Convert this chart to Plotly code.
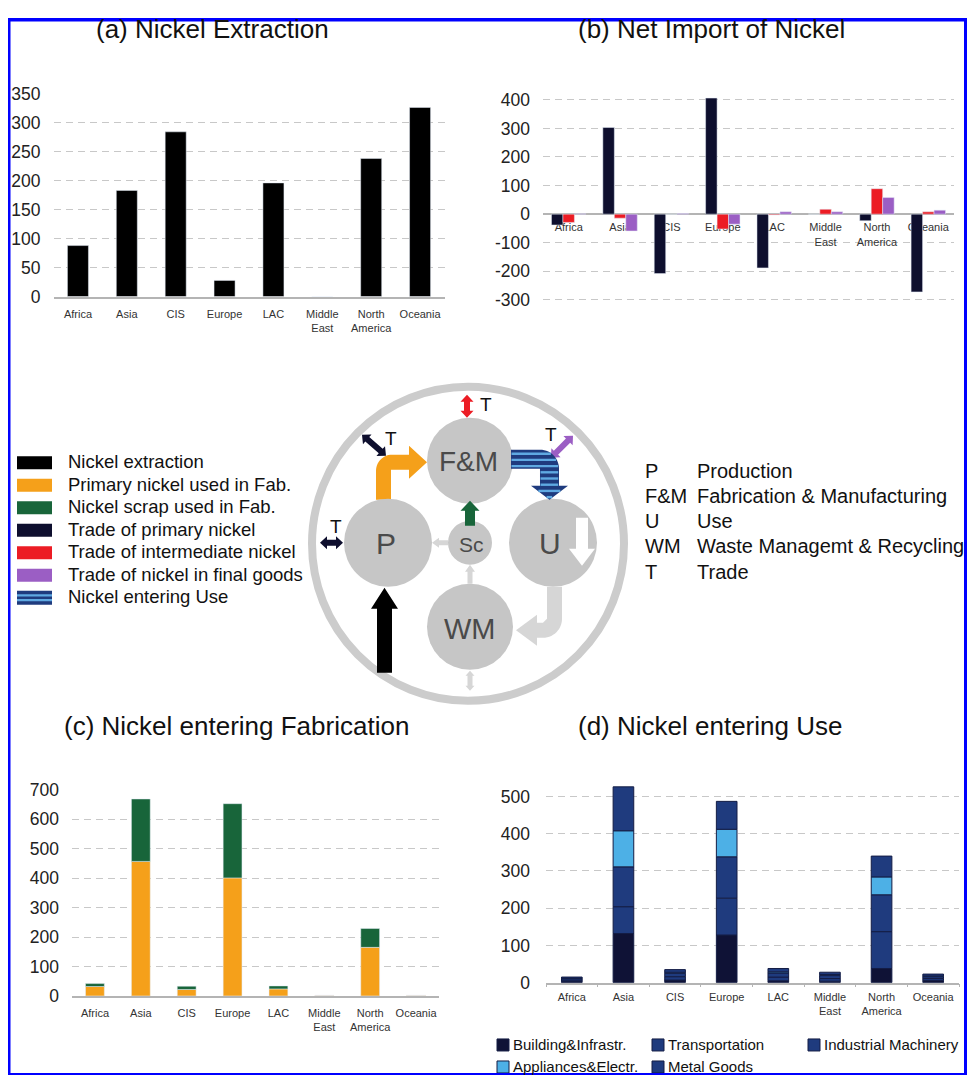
import math
import numpy as np
import plotly.graph_objects as go

# mapping from reference pixel coordinates to figure coordinates
# (page offset and the vertical scaling observed in the rendered screenshot)
OX, OY, SY = 8, 17.5, 0.981
FW, FH = 959, 1078
FONT = "Liberation Sans, Arial, Helvetica, sans-serif"

# ---------------- data ----------------
regions = ["Africa", "Asia", "CIS", "Europe", "LAC", "Middle East", "North America", "Oceania"]
region_labels = ["Africa", "Asia", "CIS", "Europe", "LAC", "Middle<br>East", "North<br>America", "Oceania"]

# (a) Nickel extraction
extraction = [88, 183, 284, 28, 196, 0, 238, 326]

# (b) Net import of nickel
trade_primary = [-38, 303, -208, 406, -188, 0, -23, -272]
trade_intermediate = [-29, -14, 0, -52, -3, 17, 89, 8]
trade_final_goods = [1, -59, 2, -35, 8, 8, 58, 14]

# (c) Nickel entering fabrication
fab_primary = [32, 457, 22, 401, 24, 2, 165, 2]
fab_scrap = [10, 212, 11, 252, 10, 0, 64, 0]

# (d) Nickel entering use
use_building = [3, 132, 7, 128, 5, 4, 38, 6]
use_transport = [4, 72, 9, 99, 10, 7, 99, 5]
use_industrial = [4, 107, 9, 111, 11, 8, 99, 5]
use_appliances = [1, 97, 3, 74, 3, 3, 48, 2]
use_metal = [3, 118, 7, 75, 9, 6, 56, 5]

ticks_a = [0, 50, 100, 150, 200, 250, 300, 350]
ticks_b = [-300, -200, -100, 0, 100, 200, 300, 400]
ticks_c = [0, 100, 200, 300, 400, 500, 600, 700]
ticks_d = [0, 100, 200, 300, 400, 500]

titles = ["(a) Nickel Extraction", "(b) Net Import of Nickel",
          "(c) Nickel entering Fabrication", "(d) Nickel entering Use"]

flow_names = ["Nickel extraction", "Primary nickel used in Fab.", "Nickel scrap used in Fab.",
              "Trade of primary nickel", "Trade of intermediate nickel",
              "Trade of nickel in final goods", "Nickel entering Use"]
use_names = ["Building&Infrastr.", "Transportation", "Industrial Machinery",
             "Appliances&Electr.", "Metal Goods"]
abbrevs = ["P", "F&M", "U", "WM", "T"]
abbrev_desc = ["Production", "Fabrication & Manufacturing", "Use",
               "Waste Managemt & Recycling", "Trade"]

# ---------------- colours ----------------
C_EXTR = "#000000"
C_ORANGE = "#f5a01a"
C_GREEN = "#18653a"
C_NAVY = "#0e0f2e"
C_RED = "#ec1c24"
C_PURPLE = "#9b5ec4"
C_BUILD = "#0f1236"
C_BLUE = "#1f3b7e"
C_LIGHT = "#4db0e6"
C_STRIPE_LIGHT = "#5fa9e2"
C_GRID = "#c8c8c8"
C_AXIS = "#b4b4b4"
C_CIRCLE = "#c6c6c6"
C_RING = "#cccccc"
C_SMALLGRAY = "#d6d6d6"
C_FRAME = "#0000ff"


def px(x):
    return (x - OX) / FW


def py(y):
    return 1 - ((y - OY) / SY) / FH


fig = go.Figure()

# (a)
fig.add_trace(go.Bar(x=regions, y=extraction, name=flow_names[0], marker_color=C_EXTR,
                     width=0.43, offsetgroup="a", xaxis="x", yaxis="y", showlegend=False))

# (b)
for vals, name, col in [(trade_primary, flow_names[3], C_NAVY),
                        (trade_intermediate, flow_names[4], C_RED),
                        (trade_final_goods, flow_names[5], C_PURPLE)]:
    fig.add_trace(go.Bar(x=regions, y=vals, name=name, marker_color=col,
                         xaxis="x2", yaxis="y2", showlegend=False))

# (c) stacked
base = np.zeros(len(regions))
for vals, name, col in [(fab_primary, flow_names[1], C_ORANGE), (fab_scrap, flow_names[2], C_GREEN)]:
    fig.add_trace(go.Bar(x=regions, y=vals, base=base.copy(), name=name, marker_color=col,
                         width=0.41, offsetgroup="c", xaxis="x3", yaxis="y3", showlegend=False))
    base += np.array(vals)

# (d) stacked
use_series = [use_building, use_transport, use_industrial, use_appliances, use_metal]
use_colors = [C_BUILD, C_BLUE, C_BLUE, C_LIGHT, C_BLUE]
base = np.zeros(len(regions))
for vals, name, col in zip(use_series, use_names, use_colors):
    fig.add_trace(go.Bar(x=regions, y=vals, base=base.copy(), name=name, marker_color=col,
                         marker_line=dict(color="#141d45", width=1),
                         width=0.40, offsetgroup="d", xaxis="x4", yaxis="y4", showlegend=False))
    base += np.array(vals)


def xax(x0, x1, **kw):
    d = dict(domain=[px(x0), px(x1)], type="category", tickmode="array",
             tickvals=regions, ticktext=region_labels, showgrid=False, zeroline=False,
             tickfont=dict(size=11, color="#333333"), ticks="", showline=True,
             linecolor=C_AXIS, linewidth=1.5, ticklabelstandoff=6, fixedrange=True)
    d.update(kw)
    return d


def yax(ybot, ytop, rng, tv, **kw):
    d = dict(domain=[py(ybot), py(ytop)], range=rng, tickmode="array", tickvals=tv,
             ticktext=[str(v) for v in tv], showgrid=True, gridcolor=C_GRID,
             griddash="7px,5px", gridwidth=1, zeroline=False, showline=False, ticks="",
             tickfont=dict(size=17.5, color="#222222"), ticklabelstandoff=12, fixedrange=True)
    d.update(kw)
    return d


zero_b_px = 212.7

layout_axes = dict(
    xaxis=xax(53.5, 444.5, anchor="y"),
    yaxis=yax(296, 93, [0, 350], ticks_a, anchor="x"),
    xaxis2=xax(543, 954, anchor="free", position=py(zero_b_px), showline=False, layer="below traces"),
    yaxis2=yax(300.7, 96.4, [-305, 410], ticks_b, anchor="x2", zeroline=True,
               zerolinecolor=C_AXIS, zerolinewidth=1.5),
    xaxis3=xax(72, 439, anchor="y3"),
    yaxis3=yax(995, 789, [0, 700], ticks_c, anchor="x3"),
    xaxis4=xax(546, 959, anchor="y4", ticks="outside", tickson="boundaries", ticklen=3,
               tickcolor=C_AXIS, ticklabelstandoff=3),
    yaxis4=yax(981.7, 784.5, [0, 530], ticks_d, anchor="x4", ticklabelstandoff=15),
)

shapes = []
annotations = []


def path_of(points):
    return "M " + " L ".join(f"{px(x):.5f},{py(y):.5f}" for x, y in points) + " Z"


def add_poly(points, color):
    shapes.append(dict(type="path", xref="paper", yref="paper", path=path_of(points),
                       fillcolor=color, line=dict(width=0), layer="above"))


def arc(cx, cy, r, a0, a1, n=14):
    return [(cx + r * math.cos(math.radians(a0 + (a1 - a0) * i / n)),
             cy + r * math.sin(math.radians(a0 + (a1 - a0) * i / n))) for i in range(n + 1)]


def arrow_pts(x0, y0, x1, y1, s, hl, hw, double=False):
    dx, dy = x1 - x0, y1 - y0
    L = math.hypot(dx, dy)
    ux, uy = dx / L, dy / L
    nx, ny = -uy, ux
    bx1, by1 = x1 - ux * hl, y1 - uy * hl
    if double:
        bx0, by0 = x0 + ux * hl, y0 + uy * hl
        return [(x0, y0), (bx0 + nx * hw, by0 + ny * hw), (bx0 + nx * s, by0 + ny * s),
                (bx1 + nx * s, by1 + ny * s), (bx1 + nx * hw, by1 + ny * hw), (x1, y1),
                (bx1 - nx * hw, by1 - ny * hw), (bx1 - nx * s, by1 - ny * s),
                (bx0 - nx * s, by0 - ny * s), (bx0 - nx * hw, by0 - ny * hw)]
    return [(x0 + nx * s, y0 + ny * s), (bx1 + nx * s, by1 + ny * s),
            (bx1 + nx * hw, by1 + ny * hw), (x1, y1), (bx1 - nx * hw, by1 - ny * hw),
            (bx1 - nx * s, by1 - ny * s), (x0 - nx * s, y0 - ny * s)]


def circle(cx, cy, r, fill):
    shapes.append(dict(type="circle", xref="paper", yref="paper", x0=px(cx - r), x1=px(cx + r),
                       y0=py(cy + r), y1=py(cy - r), fillcolor=fill, line=dict(width=0),
                       layer="above"))


def rect(x0, y0, x1, y1, color, line=None):
    s = dict(type="rect", xref="paper", yref="paper", x0=px(x0), x1=px(x1), y0=py(y1), y1=py(y0),
             fillcolor=color, line=dict(width=0), layer="above")
    if line:
        s["line"] = line
    shapes.append(s)


def text(x, y, t, size, color="#111111", xanchor="center", yanchor="middle"):
    annotations.append(dict(x=px(x), y=py(y), xref="paper", yref="paper", text=t, showarrow=False,
                            xanchor=xanchor, yanchor=yanchor,
                            font=dict(family=FONT, size=size, color=color)))


# ---------------- diagram ----------------
# outer ring
shapes.append(dict(type="circle", xref="paper", yref="paper", x0=px(312), x1=px(624),
                   y0=py(700), y1=py(386), line=dict(color=C_RING, width=8),
                   fillcolor="rgba(0,0,0,0)", layer="above"))

# orange arrow P -> F&M
orange = [(376, 499)] + arc(392, 470, 16, 180, 270) + [(409, 454), (409, 445), (427, 461.5),
                                                       (409, 478), (409, 469), (391, 469), (391, 499)]
add_poly(orange, C_ORANGE)

# nodes
circle(470, 460, 43, C_CIRCLE)   # F&M
circle(388, 542, 44, C_CIRCLE)   # P
circle(470, 542, 22, C_CIRCLE)   # Sc
circle(553, 542, 44, C_CIRCLE)   # U
circle(470, 626, 43, C_CIRCLE)   # WM

# extraction arrow
add_poly(arrow_pts(384.5, 672, 384.5, 587, 7.5, 21, 13.5), C_EXTR)
# scrap arrow
add_poly(arrow_pts(470, 525, 470, 500, 5, 10, 9.5), C_GREEN)
# small gray arrows
add_poly(arrow_pts(448, 542, 432, 542, 2.5, 7, 5), C_SMALLGRAY)
add_poly(arrow_pts(470, 583, 470, 564, 2.5, 7, 5), C_SMALLGRAY)
add_poly(arrow_pts(470, 670, 470, 690, 2.5, 5, 4.5, double=True), C_SMALLGRAY)

# trade arrows
add_poly(arrow_pts(467, 394, 467, 417, 3, 7, 6.5, double=True), C_RED)
add_poly(arrow_pts(362, 434, 386, 455, 3, 7, 6.5, double=True), C_NAVY)
add_poly(arrow_pts(320, 542, 343, 542, 3, 7, 6.5, double=True), C_NAVY)
add_poly(arrow_pts(551, 457, 573, 435, 3, 7, 6.5, double=True), C_PURPLE)

# gray arrow U -> WM
gray_uw = [(547, 586), (562, 586)] + arc(543, 618, 19, 0, 90) + [(537, 637), (537, 645), (516, 629.5),
                                                                 (537, 614), (537, 622), (543, 622),
                                                                 (547, 618)]
add_poly(gray_uw, C_SMALLGRAY)

# white arrow inside U
add_poly(arrow_pts(582, 517, 582, 565, 6, 17, 13), "#ffffff")

# striped arrow F&M -> U
blue = [(511, 449)] + arc(540, 468, 19, 270, 360) + [(559, 485), (568, 485), (549.5, 499),
                                                    (531, 485), (540, 485), (540, 468), (511, 468)]
add_poly(blue, C_BLUE)


def blue_extent(y):
    if 449 <= y <= 468:
        dy = 468 - y
        return 511, 540 + math.sqrt(max(19 * 19 - dy * dy, 0))
    if 468 < y <= 485:
        return 540, 559
    if 485 < y <= 499:
        half = 18.5 * (499 - y) / 14
        return 549.5 - half, 549.5 + half
    return None


for ys in np.arange(453, 497, 6.2):
    ext = blue_extent(ys)
    if ext and ext[1] - ext[0] > 2:
        shapes.append(dict(type="line", xref="paper", yref="paper", x0=px(ext[0] + 0.5),
                           x1=px(ext[1] - 0.8), y0=py(ys), y1=py(ys),
                           line=dict(color=C_STRIPE_LIGHT, width=2.4), layer="above"))

# node labels
text(468, 461, "F&M", 28, "#4a4a4a")
text(386, 543, "P", 30, "#4a4a4a")
text(471, 544, "Sc", 21, "#4a4a4a")
text(550, 543, "U", 30, "#4a4a4a")
text(470, 628, "WM", 29, "#4a4a4a")
# T labels
for tx, ty in [(486, 404), (391, 438), (336, 526), (551, 434)]:
    text(tx, ty, "T", 19, "#111111")

# ---------------- flow key (left) ----------------
flow_colors = [C_EXTR, C_ORANGE, C_GREEN, C_NAVY, C_RED, C_PURPLE, None]
for i, (nm, col) in enumerate(zip(flow_names, flow_colors)):
    yc = 462 + 22.5 * i
    if col is None:
        rect(17, yc - 7, 52, yc + 7, C_BLUE)
        for k in (-2.4, 2.4):
            rect(17, yc + k - 1.2, 52, yc + k + 1.2, C_STRIPE_LIGHT)
    else:
        rect(17, yc - 6.5, 52, yc + 6.5, col)
    text(66, yc - 1, nm, 18.5, "#111111", xanchor="left")

# ---------------- abbreviation key (right) ----------------
for i, (ab, ds) in enumerate(zip(abbrevs, abbrev_desc)):
    yc = 470 + 25.2 * i
    text(643, yc, ab, 20, "#111111", xanchor="left")
    text(695, yc, ds, 20, "#111111", xanchor="left")

# ---------------- (d) legend ----------------
leg_pos = [(497, 1044), (652, 1044), (808, 1044), (497, 1066), (652, 1066)]
for (lx, ly), nm, col in zip(leg_pos, use_names, use_colors):
    rect(lx, ly - 6, lx + 12, ly + 6, col, line=dict(color="#141d45", width=1))
    text(lx + 14, ly, nm, 15, "#111111", xanchor="left")

# ---------------- titles ----------------
for (tx, ty), t in zip([(212, 28), (711, 28), (236, 725), (710, 725)], titles):
    text(tx, ty, t, 26, "#111111")

# ---------------- frame ----------------
R_EDGE = OX + FW
rect(OX, OY, OX + 2.5, 1075, C_FRAME)            # left
rect(OX, OY, R_EDGE, OY + 3.5, C_FRAME)          # top
rect(R_EDGE - 3, OY, R_EDGE, 1075, C_FRAME)      # right
rect(OX, 1072, R_EDGE, 1075, C_FRAME)            # bottom

fig.update_layout(
    width=FW, height=FH, margin=dict(l=0, r=0, t=0, b=0),
    paper_bgcolor="white", plot_bgcolor="white",
    barmode="group", bargap=0.33, bargroupgap=0,
    font=dict(family=FONT, color="#222222"),
    showlegend=False, shapes=shapes, annotations=annotations,
    **layout_axes,
)

fig.write_html("out.html")
